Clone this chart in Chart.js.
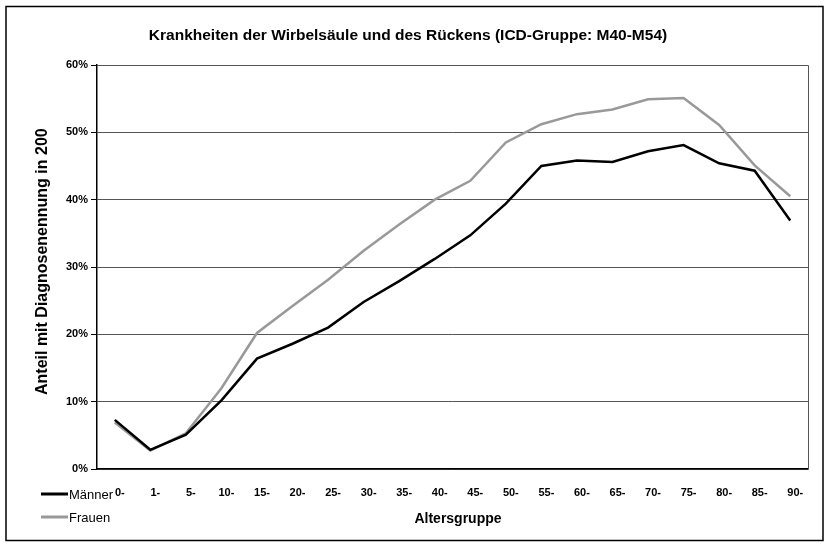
<!DOCTYPE html>
<html>
<head>
<meta charset="utf-8">
<script src="https://cdn.jsdelivr.net/npm/chart.js@4.4.1/dist/chart.umd.min.js"></script>
<style>
  html, body { margin: 0; padding: 0; background: #fff; }
  #wrap { width: 830px; height: 547px; position: relative; }
</style>
</head>
<body>
<div id="wrap"><canvas id="c" width="830" height="547"></canvas></div>
<script>
// Age groups (start of each band) and share of people with a diagnosis, in percent
const altersgruppen = ['0-', '1-', '5-', '10-', '15-', '20-', '25-', '30-', '35-', '40-',
                       '45-', '50-', '55-', '60-', '65-', '70-', '75-', '80-', '85-', '90-'];
const maenner = [7.3, 2.85, 5.1, 10.2, 16.4, 18.6, 21.0, 24.8, 27.9, 31.2,
                 34.7, 39.4, 45.0, 45.8, 45.6, 47.2, 48.1, 45.4, 44.3, 36.9];
const frauen  = [6.9, 2.75, 5.3, 12.0, 20.2, 24.2, 28.1, 32.4, 36.3, 40.0,
                 42.8, 48.5, 51.2, 52.7, 53.4, 54.9, 55.1, 51.1, 45.1, 40.5];
const yTicks = [0, 10, 20, 30, 40, 50, 60];

const FONT = '"Liberation Sans", Arial, sans-serif';

// Outer frame, plot box, headings and a hand-placed legend
const decorations = {
  id: 'decorations',
  beforeDraw(chart) {
    const ctx = chart.ctx;
    ctx.save();
    ctx.fillStyle = '#fff';
    ctx.fillRect(0, 0, chart.width, chart.height);
    ctx.restore();
  },
  afterDraw(chart) {
    const ctx = chart.ctx;
    const a = chart.chartArea;
    ctx.save();

    // plot box: top/right edges
    ctx.strokeStyle = '#555';
    ctx.lineWidth = 1;
    ctx.beginPath();
    ctx.moveTo(a.left, a.top + 0.5);
    ctx.lineTo(a.right + 0.5, a.top + 0.5);
    ctx.lineTo(a.right + 0.5, a.bottom);
    ctx.stroke();

    // outer frame
    ctx.strokeStyle = '#000';
    ctx.lineWidth = 1.5;
    ctx.strokeRect(6, 6.5, 817, 534);

    // chart title
    ctx.fillStyle = '#000';
    ctx.textAlign = 'center';
    ctx.textBaseline = 'middle';
    ctx.font = 'bold 15.5px ' + FONT;
    ctx.fillText('Krankheiten der Wirbelsäule und des Rückens (ICD-Gruppe: M40-M54)', 408, 36);

    // x axis title
    ctx.font = 'bold 14px ' + FONT;
    ctx.fillText('Altersgruppe', 458, 519);

    // y axis title, cut off at the top like the original layout box
    ctx.save();
    ctx.beginPath();
    ctx.rect(20, 128, 50, 300);
    ctx.clip();
    ctx.translate(43, 395);
    ctx.rotate(-Math.PI / 2);
    ctx.textAlign = 'left';
    ctx.font = 'bold 16px ' + FONT;
    ctx.fillText('Anteil mit Diagnosenennung in 2004', 0, 0);
    ctx.restore();

    // legend
    ctx.font = '13px ' + FONT;
    ctx.textAlign = 'left';
    chart.data.datasets.forEach((ds, i) => {
      const y = 494 + i * 23;
      ctx.strokeStyle = ds.borderColor;
      ctx.lineWidth = 3;
      ctx.beginPath();
      ctx.moveTo(41, y);
      ctx.lineTo(68, y);
      ctx.stroke();
      ctx.fillStyle = '#000';
      ctx.fillText(ds.label, 69, y + 1);
    });
    ctx.restore();
  }
};

new Chart(document.getElementById('c'), {
  type: 'line',
  data: {
    labels: altersgruppen,
    datasets: [
      { label: 'Männer', data: maenner, borderColor: '#000000', borderWidth: 2.5 },
      { label: 'Frauen', data: frauen,  borderColor: '#999999', borderWidth: 2.5 }
    ]
  },
  options: {
    responsive: false,
    animation: false,
    devicePixelRatio: 1,
    layout: { padding: { left: 0, right: 22, top: 65, bottom: 0 } },
    elements: { point: { radius: 0 }, line: { tension: 0, borderCapStyle: 'butt', borderJoinStyle: 'miter' } },
    plugins: { legend: { display: false }, title: { display: false }, tooltip: { enabled: false } },
    scales: {
      x: {
        offset: true,
        grid: { display: false, drawTicks: false },
        border: { display: true, color: '#000', width: 1.5 },
        ticks: { color: '#000', font: { family: FONT, size: 11, weight: 'bold' }, padding: 17, labelOffset: 5, maxRotation: 0, autoSkip: false },
        afterFit(s) { s.height = 78; }
      },
      y: {
        min: 0, max: 60,
        afterBuildTicks(s) { s.ticks = yTicks.map(v => ({ value: v })); },
        ticks: { color: '#000', font: { family: FONT, size: 11, weight: 'bold' }, padding: 3, callback: v => v + '%' },
        grid: { color: '#555', lineWidth: 1, tickLength: 6, tickColor: '#000' },
        border: { display: true, color: '#000', width: 1.5 },
        afterFit(s) { s.width = 97; }
      }
    }
  },
  plugins: [decorations]
});
</script>
</body>
</html>
